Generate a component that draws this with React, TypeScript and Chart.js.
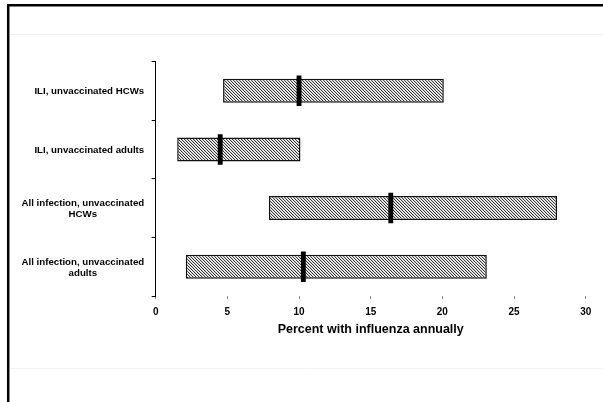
import React, { useEffect, useRef } from "react";
import { Chart, registerables } from "chart.js";

Chart.register(...registerables);

// ---- data ----
const categories: string[][] = [
  ["ILI, unvaccinated HCWs"],
  ["ILI, unvaccinated adults"],
  ["All infection, unvaccinated", "HCWs"],
  ["All infection, unvaccinated", "adults"],
];
const lows: number[] = [4.7, 1.5, 7.9, 2.1];
const highs: number[] = [20.1, 10.1, 28.0, 23.1];
const medians: number[] = [10.0, 4.5, 16.4, 10.3];
const xTickValues: number[] = [0, 5, 10, 15, 20, 25, 30];
const xTitle = "Percent with influenza annually";

const W = 603;
const H = 402;
const FONT = "'Liberation Sans', Arial, sans-serif";

function makeHatch(): CanvasPattern | string {
  const c = document.createElement("canvas");
  c.width = 3;
  c.height = 3;
  const ctx = c.getContext("2d");
  if (!ctx) return "#aaa";
  const img = ctx.createImageData(3, 3);
  for (let y = 0; y < 3; y++) {
    for (let x = 0; x < 3; x++) {
      const k = (((x - y) % 3) + 3) % 3;
      const v = k === 0 ? 55 : k === 1 ? 205 : 255;
      const i = (y * 3 + x) * 4;
      img.data[i] = v;
      img.data[i + 1] = v;
      img.data[i + 2] = v;
      img.data[i + 3] = 255;
    }
  }
  ctx.putImageData(img, 0, 0);
  return ctx.createPattern(c, "repeat") || "#aaa";
}

const framePlugin = {
  id: "frame",
  beforeDraw(chart: any) {
    const ctx = chart.ctx as CanvasRenderingContext2D;
    ctx.save();
    ctx.fillStyle = "#ffffff";
    ctx.fillRect(0, 0, W, H);
    ctx.strokeStyle = "#f2f2f2";
    ctx.lineWidth = 1;
    ctx.beginPath();
    ctx.moveTo(10, 34.5);
    ctx.lineTo(W, 34.5);
    ctx.moveTo(10, 368.5);
    ctx.lineTo(W, 368.5);
    ctx.stroke();
    ctx.strokeStyle = "#000000";
    ctx.lineWidth = 2.5;
    ctx.beginPath();
    ctx.moveTo(8.2, H);
    ctx.lineTo(8.2, 5.2);
    ctx.lineTo(W, 5.2);
    ctx.stroke();
    ctx.restore();
  },
};

const yLabelPlugin = {
  id: "yLabels",
  afterDraw(chart: any) {
    const ctx = chart.ctx as CanvasRenderingContext2D;
    const yScale = chart.scales.y;
    const right = yScale.right - 11.5;
    const lh = 10.5;
    ctx.save();
    ctx.font = `bold 9.7px ${FONT}`;
    ctx.fillStyle = "#000";
    ctx.textAlign = "center";
    ctx.textBaseline = "middle";
    categories.forEach((lines, i) => {
      const cy = yScale.getPixelForValue(i) + 1;
      const maxW = Math.max(...lines.map((l) => ctx.measureText(l).width));
      const cx = right - maxW / 2;
      lines.forEach((l, j) => {
        ctx.fillText(l, cx, cy - ((lines.length - 1) * lh) / 2 + j * lh);
      });
    });
    ctx.restore();
  },
};

export default function App() {
  const ref = useRef<HTMLCanvasElement | null>(null);

  useEffect(() => {
    if (!ref.current) return;
    const hatch = makeHatch();
    const medianHalf = 0.17;
    const chart = new Chart(ref.current, {
      type: "bar",
      data: {
        labels: categories.map((c) => c.join(" ")),
        datasets: [
          {
            label: "Range",
            data: lows.map((lo, i) => [lo, highs[i]]) as any,
            backgroundColor: hatch as any,
            borderColor: "#111",
            borderWidth: 1.5,
            borderSkipped: false,
            barPercentage: 0.41,
            categoryPercentage: 1,
            grouped: false,
            order: 2,
          } as any,
          {
            label: "Median",
            data: medians.map((m) => [m - medianHalf, m + medianHalf]) as any,
            backgroundColor: "#000",
            borderWidth: 0,
            barPercentage: 0.52,
            categoryPercentage: 1,
            grouped: false,
            order: 1,
          } as any,
        ],
      },
      options: {
        indexAxis: "y",
        animation: false,
        responsive: false,
        devicePixelRatio: 1,
        layout: { padding: { left: 0, top: 61.5, right: 17.3, bottom: 0 } },
        plugins: {
          legend: { display: false },
          tooltip: { enabled: false },
        },
        scales: {
          y: {
            type: "category",
            offset: true,
            ticks: { display: false },
            grid: {
              display: true,
              offset: true,
              drawOnChartArea: false,
              drawTicks: true,
              tickLength: 4,
              color: "#000",
            },
            border: { display: true, color: "#000", width: 1 },
            afterFit: (scale: any) => {
              scale.width = 155.7;
            },
          },
          x: {
            type: "linear",
            min: 0,
            max: 30,
            afterBuildTicks: (scale: any) => {
              scale.ticks = xTickValues.map((v) => ({ value: v }));
            },
            ticks: {
              color: "#000",
              padding: 7.5,
              font: { family: FONT, size: 10, weight: "bold" },
            },
            grid: {
              display: true,
              drawOnChartArea: false,
              drawTicks: true,
              tickLength: 3,
              color: "#888",
            },
            border: { display: false },
            title: {
              display: true,
              text: xTitle,
              color: "#000",
              font: { family: FONT, size: 12.5, weight: "bold" },
              padding: { top: 0, bottom: 64.5 },
            },
            afterFit: (scale: any) => {
              scale.height = 106;
            },
          },
        },
      } as any,
      plugins: [framePlugin, yLabelPlugin],
    });
    return () => chart.destroy();
  }, []);

  return (
    <div style={{ position: "fixed", left: 0, top: 0, width: W, height: H, background: "#fff" }}>
      <canvas ref={ref} width={W} height={H} style={{ display: "block", width: W, height: H }} />
    </div>
  );
}
